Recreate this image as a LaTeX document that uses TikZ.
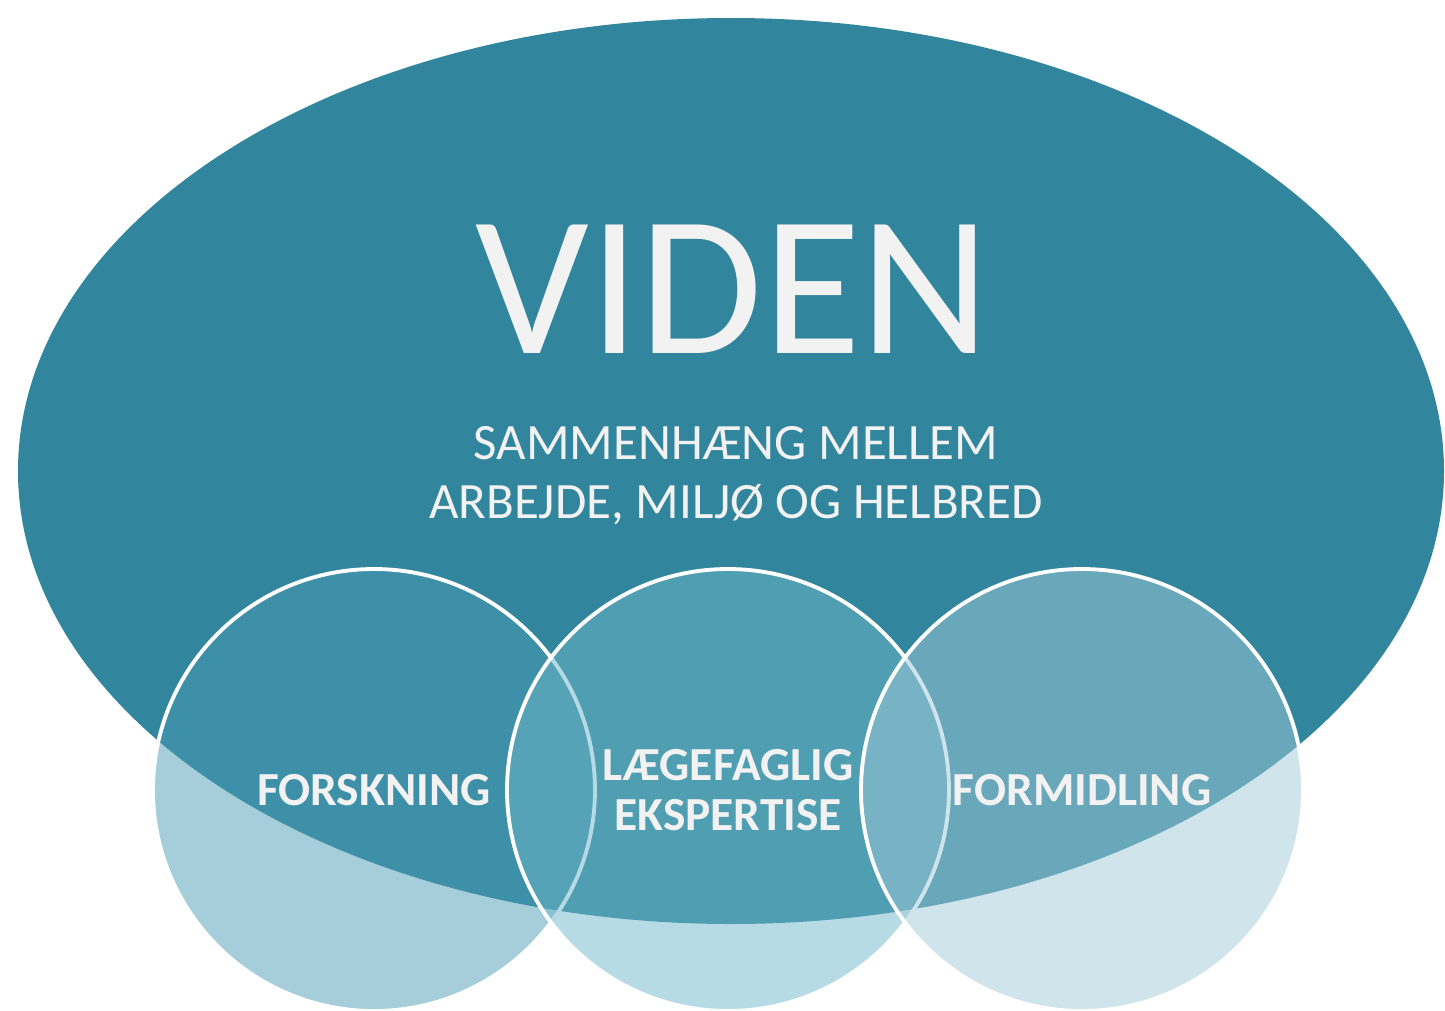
\documentclass[tikz,border=0pt]{standalone}
\usepackage{fontspec}
\setmainfont{Carlito}
\usetikzlibrary{shapes.geometric}
\definecolor{vidbg}{HTML}{31859C}
\definecolor{ringA}{HTML}{4B9BB5}
\definecolor{ringB}{HTML}{6FB7C9}
\definecolor{ringC}{HTML}{A1C9D9}
\definecolor{lys}{HTML}{F2F2F2}
\begin{document}
\begin{tikzpicture}[
    bubble/.style={circle,draw=white,line width=2.2pt,minimum size=8.84cm,inner sep=0pt,
      fill opacity=0.5,text opacity=1,text=lys,align=center,
      font=\fontsize{27}{28.5}\selectfont\bfseries}]
			\useasboundingbox (0,0) rectangle (28.9,-20.2);

			\node[ellipse,fill=vidbg,minimum width=28.52cm,minimum height=18.12cm,inner sep=0pt] (viden) at (14.62,-9.42) {};
			\node[text=lys,anchor=base,font=\fontsize{114}{114}\selectfont] (titel) at (14.66,-7.06) {VIDEN};
			\node[text=lys,align=center,font=\fontsize{29}{33.6}\selectfont] (undertitel) at (14.72,-9.52) {SAMMENHÆNG MELLEM\\ARBEJDE, MILJØ OG HELBRED};

			\node[bubble,fill=ringA] (forskning) at (7.48,-15.8) {FORSKNING};
			\node[bubble,fill=ringB] (ekspertise) at (14.56,-15.8) {LÆGEFAGLIG\\EKSPERTISE};
			\node[bubble,fill=ringC] (formidling) at (21.64,-15.8) {FORMIDLING};
		\end{tikzpicture}
\end{document}
